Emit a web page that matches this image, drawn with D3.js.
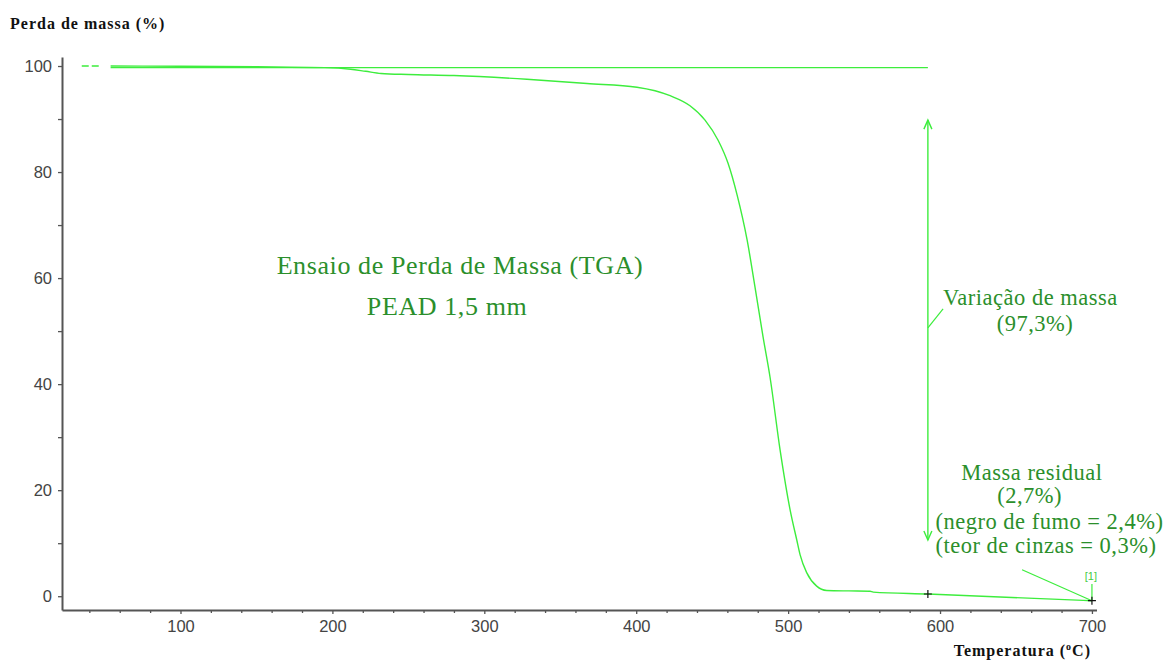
<!DOCTYPE html>
<html>
<head>
<meta charset="utf-8">
<script src="https://cdn.jsdelivr.net/npm/d3@7"></script>
<style>
  body { margin: 0; background: #fff; }
  svg { display: block; }
</style>
</head>
<body>
<script>
// TGA curve: temperature (°C) vs mass (%)
const temps = [54, 100, 150, 195, 212, 222, 232, 250, 280, 328, 367.6, 400.5, 422.3, 435.4, 445.3, 453.9, 460.4, 466.4, 473, 478.2, 483.5, 488.1, 494.7, 501.3, 505.7, 507.9, 512.3, 518.8, 525.4, 540, 554, 556, 592, 700];
const mass = [100, 99.95, 99.85, 99.7, 99.4, 99.0, 98.6, 98.4, 98.2, 97.5, 96.7, 96.0, 94.4, 92.5, 89.8, 86.0, 81.7, 75.7, 67.2, 58.3, 48.9, 41.3, 27.6, 16.3, 10.6, 7.8, 4.4, 1.9, 1.08, 1.0, 0.95, 0.78, 0.42, -0.85];

// short dashed lead-in before the recorded curve
const leadT = [35, 47];
const leadM = [100, 100];

// baseline (initial mass) line
const baseT = [54, 592];
const baseM = [99.7, 99.7];

// tick values
const yMajor = [0, 20, 40, 60, 80, 100];
const yMinor = [10, 30, 50, 70, 90];
const xMajor = [100, 200, 300, 400, 500, 600, 700];
const xMinor = [40, 60, 80, 120, 140, 160, 180, 220, 240, 260, 280, 320, 340, 360, 380, 420, 440, 460, 480, 520, 540, 560, 580, 620, 640, 660, 680];

// annotation points
const markerT = [592, 700];
const markerM = [0.42, -0.85];
const arrowT = 592, arrowTop = 89.8, arrowBottom = 10.6;

const width = 1170, height = 661;
const green = "#3ded3d", textGreen = "#2b8f2b", axisCol = "#555";
const serif = "'Liberation Serif', 'Times New Roman', serif";

const svg = d3.select("body").append("svg")
  .attr("width", width).attr("height", height);

const x = d3.scaleLinear().domain([22, 703]).range([62, 1096.5]);
const y = d3.scaleLinear().domain([-2.6, 101.7]).range([610, 57]);

// axes
svg.append("g").attr("transform", "translate(62,0)")
  .call(d3.axisLeft(y).tickValues(yMajor).tickSize(4).tickSizeOuter(0).tickPadding(6));
svg.append("g").attr("transform", "translate(62,0)")
  .call(d3.axisLeft(y).tickValues(yMinor).tickSize(4).tickSizeOuter(0).tickFormat(""))
  .select(".domain").remove();
svg.append("g").attr("transform", "translate(0,610)")
  .call(d3.axisBottom(x).tickValues(xMajor).tickSize(4).tickSizeOuter(0).tickPadding(6));
svg.append("g").attr("transform", "translate(0,610)")
  .call(d3.axisBottom(x).tickValues(xMinor).tickSize(3).tickSizeOuter(0).tickFormat(""))
  .select(".domain").remove();

svg.selectAll(".domain").attr("stroke", axisCol).attr("stroke-width", 2);
svg.selectAll(".tick line").attr("stroke", axisCol).attr("stroke-width", 1.3);
svg.selectAll(".tick text")
  .attr("fill", "#444")
  .style("font-family", "'Liberation Sans', Arial, sans-serif")
  .style("font-size", "16.5px");

// axis titles
svg.append("text").attr("x", 10).attr("y", 29)
  .style("font-family", serif).style("letter-spacing", "1px")
  .style("font-weight", "bold").style("font-size", "16px").attr("fill", "#111")
  .text("Perda de massa (%)");
const xt = svg.append("text").attr("x", 1091).attr("y", 656).attr("text-anchor", "end")
  .style("font-family", serif).style("letter-spacing", "1px")
  .style("font-weight", "bold").style("font-size", "16px").attr("fill", "#111");
xt.append("tspan").text("Temperatura (");
xt.append("tspan").attr("dy", -6).style("font-size", "10px").text("o");
xt.append("tspan").attr("dy", 6).text("C)");

const line = d3.line().x(d => x(d[0])).y(d => y(d[1]));

// lead-in dashes
svg.append("path").datum(d3.zip(leadT, leadM))
  .attr("fill", "none").attr("stroke", green).attr("stroke-width", 1.4)
  .attr("stroke-dasharray", "7,3").attr("d", line);

// baseline
svg.append("path").datum(d3.zip(baseT, baseM))
  .attr("fill", "none").attr("stroke", green).attr("stroke-width", 1.4).attr("d", line);

// TGA curve
svg.append("path").datum(d3.zip(temps, mass))
  .attr("fill", "none").attr("stroke", green).attr("stroke-width", 1.4)
  .attr("d", d3.line().x(d => x(d[0])).y(d => y(d[1])).curve(d3.curveMonotoneX));

// double arrow for mass variation
svg.append("line")
  .attr("x1", x(arrowT)).attr("x2", x(arrowT))
  .attr("y1", y(arrowTop)).attr("y2", y(arrowBottom))
  .attr("stroke", green).attr("stroke-width", 1.4);
const head = (t, m, dir) => {
  const px = x(t), py = y(m);
  return `M${px - 4},${py + dir * 9}L${px},${py}L${px + 4},${py + dir * 9}`;
};
svg.append("path").attr("d", head(arrowT, arrowTop, 1))
  .attr("fill", "none").attr("stroke", green).attr("stroke-width", 1.4);
svg.append("path").attr("d", head(arrowT, arrowBottom, -1))
  .attr("fill", "none").attr("stroke", green).attr("stroke-width", 1.4);

// leader lines
svg.append("line")
  .attr("x1", x(592)).attr("y1", y(50.6)).attr("x2", x(602)).attr("y2", y(54.2))
  .attr("stroke", green).attr("stroke-width", 1.2);
svg.append("line")
  .attr("x1", x(654)).attr("y1", y(5)).attr("x2", x(700)).attr("y2", y(-0.85))
  .attr("stroke", green).attr("stroke-width", 1.2);
svg.append("line")
  .attr("x1", x(700)).attr("y1", y(2.3)).attr("x2", x(700)).attr("y2", y(-0.85))
  .attr("stroke", green).attr("stroke-width", 1.2);
svg.append("text").attr("x", x(700) - 1).attr("y", y(3.1))
  .attr("text-anchor", "middle").attr("fill", "#44cc44")
  .style("font-family", "'Liberation Sans', Arial, sans-serif").style("font-size", "11px")
  .text("[1]");

// + markers
svg.selectAll(".mk").data(d3.zip(markerT, markerM)).join("path")
  .attr("class", "mk")
  .attr("d", d => `M${x(d[0]) - 4},${y(d[1])}h8M${x(d[0])},${y(d[1]) - 4}v8`)
  .attr("stroke", "#111").attr("stroke-width", 1.2);

// green annotation text
const labels = [
  { t: 284, m: 60.8, s: 26, a: "middle", txt: "Ensaio de Perda de Massa (TGA)" },
  { t: 275.5, m: 53.0, s: 26, a: "middle", txt: "PEAD 1,5 mm" },
  { t: 602, m: 54.9, s: 22.5, a: "start", txt: "Variação de massa" },
  { t: 662.5, m: 50.1, s: 22.5, a: "middle", txt: "(97,3%)" },
  { t: 660.5, m: 21.9, s: 22.5, a: "middle", txt: "Massa residual" },
  { t: 659, m: 17.6, s: 22.5, a: "middle", txt: "(2,7%)" },
  { t: 597, m: 12.7, s: 22.5, a: "start", txt: "(negro de fumo = 2,4%)" },
  { t: 597, m: 8.2, s: 22.5, a: "start", txt: "(teor de cinzas = 0,3%)" }
];
svg.selectAll(".lbl").data(labels).join("text")
  .attr("class", "lbl")
  .attr("x", d => x(d.t)).attr("y", d => y(d.m))
  .attr("text-anchor", d => d.a)
  .attr("fill", textGreen)
  .style("font-family", serif)
  .style("letter-spacing", d => d.s > 24 ? "0.6px" : "0.5px")
  .style("font-size", d => d.s + "px")
  .text(d => d.txt);
</script>
</body>
</html>
